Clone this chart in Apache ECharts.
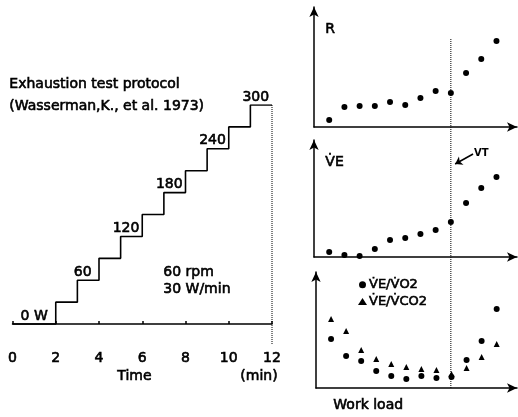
<!DOCTYPE html>
<html><head><meta charset="utf-8">
<script src="https://cdn.jsdelivr.net/npm/echarts@6/dist/echarts.min.js"></script>
<style>html,body{margin:0;padding:0;background:#fff}#c{width:518px;height:417px}</style>
</head><body><div id="c"></div>
<script>
// Left panel: exhaustion test protocol (ramp)
const stepTimes = [0, 2, 3, 4, 5, 6, 7, 8, 9, 10, 11, 12];
const stepWatts = [0, 30, 60, 90, 120, 150, 180, 210, 240, 270, 300, 300];
const levelLabels = ['0 W', '60', '120', '180', '240', '300'];
const levelWatts = [0, 60, 120, 180, 240, 300];
const timeTicks = [0, 2, 4, 6, 8, 10, 12];

// Right panels: work-load index 1..12
const loadIndex = [1, 2, 3, 4, 5, 6, 7, 8, 9, 10, 11, 12];
const rValues = [7, 20, 21, 21, 25, 22, 29, 36, 34, 54, 68, 86];
const veValues = [5, 2, 1, 8, 17, 19, 23, 27, 35, 54, 69, 80];
const veVo2 = [49, 32, 27, 17, 12, 9, 12, 10, 11, 28, 47, 79];
const veVco2 = [69, 57, 38, 29, 24, 21, 19, 18, 14, 20, 31, 44];
const vtIndex = 9;

const INK = '#000';
const FONT = 'DejaVu Sans';
const TF = '14px "DejaVu Sans"';
const SW = 0.6; // stroke to thicken the printed text
const txt = s => ({ text: s, font: TF, fill: INK, stroke: INK, lineWidth: SW });
const thick = { textBorderColor: INK, textBorderWidth: SW };

const stepData = stepTimes.map((t, i) => [t, stepWatts[i]]);
const labelData = levelWatts.map((w, i) => {
  const k = stepWatts.indexOf(w);
  const start = stepTimes[k];
  const end = stepTimes[k + 1];
  const x = w === 0 ? (start + end) / 2 : start + 0.25;
  return { value: [x, w], label: { formatter: levelLabels[i] } };
});

const axisArrow = { show: true, symbol: ['none', 'arrow'], symbolSize: [7, 10], lineStyle: { color: INK, width: 1.5 } };
const XMAX = 13.35;
function panelX(idx) {
  return { gridIndex: idx, type: 'value', min: 0, max: XMAX, axisLine: axisArrow, axisTick: { show: false }, axisLabel: { show: false }, splitLine: { show: false } };
}
function panelY(idx, max) {
  return { gridIndex: idx, type: 'value', min: 0, max: max, axisLine: axisArrow, axisTick: { show: false }, axisLabel: { show: false }, splitLine: { show: false } };
}
const pts = arr => loadIndex.map((x, i) => [x, arr[i]]);
const dot = { color: INK, opacity: 1 };

const chart = echarts.init(document.getElementById('c'), null, { renderer: 'canvas' });
chart.setOption({
  animation: false,
  backgroundColor: '#fff',
  textStyle: { fontFamily: FONT, color: INK },
  grid: [
    { left: 12.5, right: 246, top: 105, bottom: 72.5 },
    { left: 314, right: 1, top: 7, bottom: 290 },
    { left: 314, right: 1, top: 140, bottom: 160 },
    { left: 316, right: 1, top: 272, bottom: 29 },
    { left: 314, right: 1, top: 38, bottom: 29 }
  ],
  xAxis: [
    { gridIndex: 0, type: 'value', min: 0, max: 12, interval: 2,
      axisLine: { show: true, lineStyle: { color: INK, width: 1.5 } },
      axisTick: { show: true, inside: true, length: 3, lineStyle: { color: INK, width: 1.5 } },
      axisLabel: Object.assign({ fontSize: 14, color: INK, margin: 7, fontFamily: FONT, formatter: v => timeTicks.includes(v) ? String(v) : '' }, thick),
      splitLine: { show: false } },
    panelX(1), panelX(2), panelX(3),
    { gridIndex: 4, type: 'value', min: 0, max: XMAX, show: false }
  ],
  yAxis: [
    { gridIndex: 0, type: 'value', min: -28, max: 300, show: false },
    panelY(1, 120), panelY(2, 117), panelY(3, 116),
    { gridIndex: 4, type: 'value', min: 0, max: 1, show: false }
  ],
  legend: {
    orient: 'vertical', left: 353, top: 273, itemGap: 3, itemWidth: 9, itemHeight: 7,
    textStyle: Object.assign({ fontSize: 13, color: INK, fontFamily: FONT, padding: [0, 0, 0, -3] }, thick),
    data: [{ name: 'V̇E/V̇O2', icon: 'circle' }, { name: 'V̇E/V̇CO2', icon: 'triangle' }]
  },
  series: [
    { type: 'line', xAxisIndex: 0, yAxisIndex: 0, step: 'end', data: stepData, symbol: 'none',
      lineStyle: { color: INK, width: 1.6 } },
    { type: 'line', xAxisIndex: 0, yAxisIndex: 0, data: [[12, 300], [12, -28]], symbol: 'none',
      lineStyle: { color: INK, width: 1, type: 'dotted' } },
    { type: 'scatter', xAxisIndex: 0, yAxisIndex: 0, data: labelData, symbolSize: 0, itemStyle: { opacity: 1, color: INK },
      label: Object.assign({ show: true, position: 'top', distance: 1, fontSize: 14, color: INK, fontFamily: FONT }, thick) },
    { type: 'scatter', xAxisIndex: 1, yAxisIndex: 1, data: pts(rValues), symbol: 'circle', symbolSize: 6, itemStyle: dot },
    { type: 'scatter', xAxisIndex: 2, yAxisIndex: 2, data: pts(veValues), symbol: 'circle', symbolSize: 6, itemStyle: dot,
      markLine: { silent: true, symbol: ['arrow', 'none'], symbolSize: 7,
        lineStyle: { color: INK, width: 1.5, type: 'solid' },
        label: { show: true, position: 'end', formatter: 'VT', fontSize: 10, fontWeight: 'bold', color: INK, distance: 1 },
        data: [[{ coord: [9.28, 93] }, { coord: [10.46, 103] }]] } },
    { name: 'V̇E/V̇O2', type: 'scatter', xAxisIndex: 3, yAxisIndex: 3, data: pts(veVo2), symbol: 'circle', symbolSize: 6, itemStyle: dot },
    { name: 'V̇E/V̇CO2', type: 'scatter', xAxisIndex: 3, yAxisIndex: 3, data: pts(veVco2), symbol: 'triangle', symbolSize: 6, itemStyle: dot },
    { type: 'line', xAxisIndex: 4, yAxisIndex: 4, data: [[vtIndex, 0], [vtIndex, 1]], symbol: 'none',
      lineStyle: { color: INK, width: 1, type: 'dotted' } }
  ],
  graphic: [
    { type: 'text', left: 9, top: 77, style: txt('Exhaustion test protocol') },
    { type: 'text', left: 9, top: 99, style: txt('(Wasserman,K., et al. 1973)') },
    { type: 'text', left: 163, top: 265, style: txt('60 rpm') },
    { type: 'text', left: 163, top: 282, style: txt('30 W/min') },
    { type: 'text', left: 117, top: 369, style: txt('Time') },
    { type: 'text', left: 240, top: 369, style: txt('(min)') },
    { type: 'text', left: 325, top: 22, style: txt('R') },
    { type: 'text', left: 325, top: 155, style: txt('V̇E') },
    { type: 'text', left: 333, top: 398, style: txt('Work load') }
  ]
});
</script></body></html>
